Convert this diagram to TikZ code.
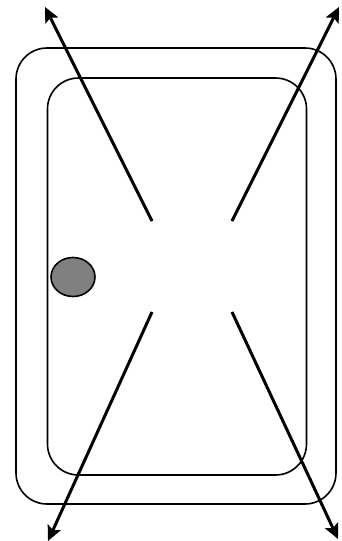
\documentclass[tikz,border=0pt]{standalone}
\usepackage{xcolor}
\usepackage{tikz}
\usetikzlibrary{arrows.meta,shapes.geometric}
\definecolor{knobgray}{HTML}{808080}
\tikzset{
  frame/.style={rectangle,draw=black,line width=1.6pt,rounded corners=31pt,inner sep=0pt},
  knob/.style={ellipse,draw=black,line width=1.6pt,fill=knobgray,inner sep=0pt,
    minimum width=44pt,minimum height=39pt},
  ar/.style={-{Stealth[length=15pt,width=14pt,inset=3pt]},line width=3pt,draw=black},
}

\begin{document}
\begin{tikzpicture}[x=1pt,y=-1pt]
  \useasboundingbox (0,0) rectangle (341,541);
  \node[frame,minimum width=320pt,minimum height=456pt] (outer) at (176,276) {};
  \node[frame,minimum width=259pt,minimum height=397pt] (inner) at (177,276.5) {};
  \node[knob] (handle) at (73,277) {};
  \coordinate (tl) at (152,221);
  \coordinate (tr) at (232,221);
  \coordinate (bl) at (152,312);
  \coordinate (br) at (232,312);
  \coordinate (tlend) at (45,7);
  \coordinate (trend) at (339,7);
  \coordinate (blend) at (48,541);
  \coordinate (brend) at (338,539);
  \foreach \s/\e in {tl/tlend,tr/trend,bl/blend,br/brend} \draw[ar] (\s)--(\e);
\end{tikzpicture}
\end{document}
